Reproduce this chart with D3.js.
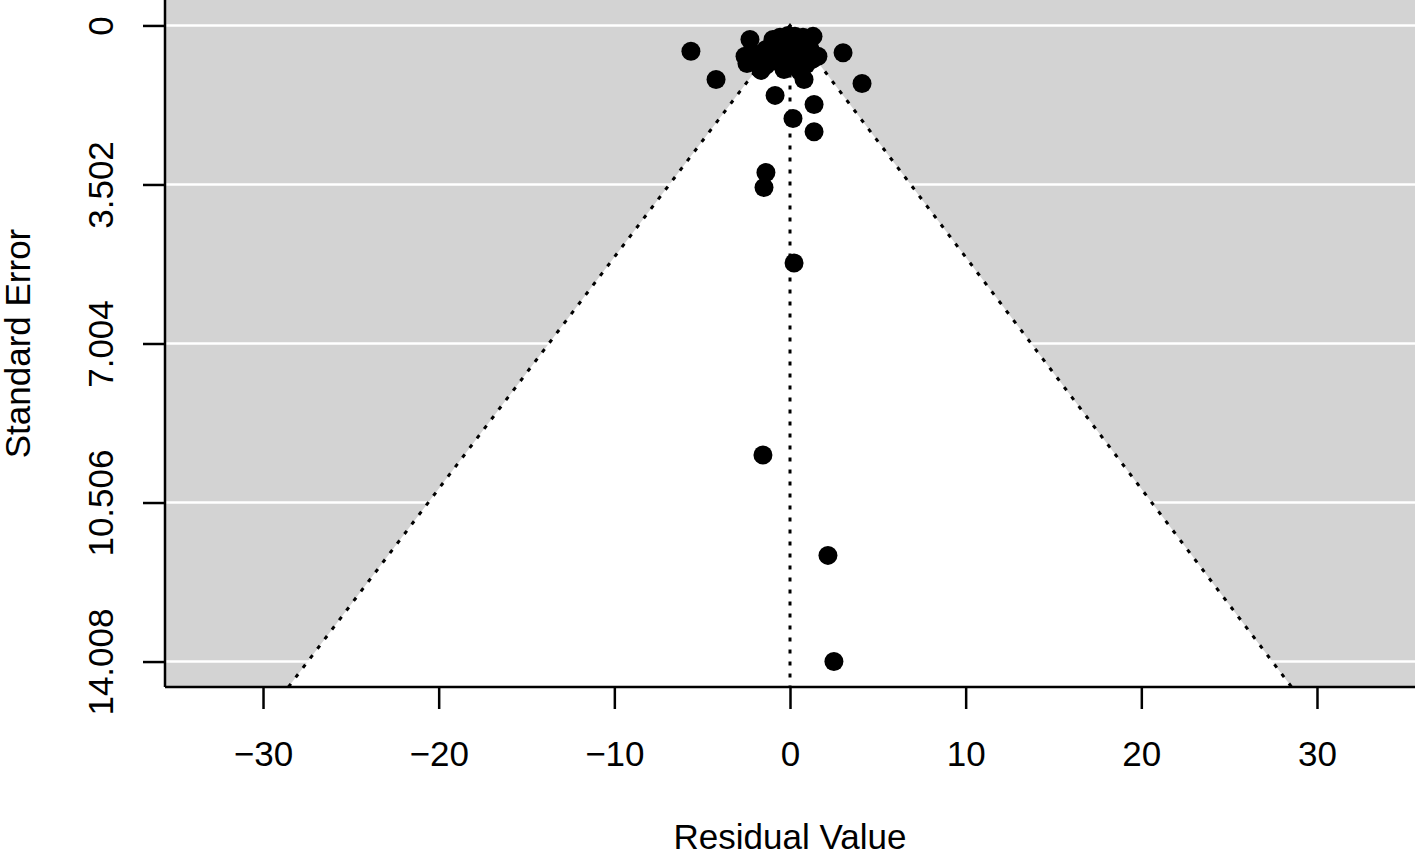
<!DOCTYPE html>
<html>
<head>
<meta charset="utf-8">
<script src="https://cdn.jsdelivr.net/npm/d3@7"></script>
<style>
  body { margin: 0; background: #fff; }
  svg text { font-family: "Liberation Sans", Arial, Helvetica, sans-serif; fill: #000; }
</style>
</head>
<body>
<svg id="chart"></svg>
<script>
// residuals and their standard errors
const residuals = [
  -5.64, -4.21, 3.02, 4.10, -0.85, 1.37, 0.17, 1.37, -1.37, -1.48, 0.23, -1.54, 2.16, 2.50,
  -2.28, -2.56, -2.45, -1.65, -0.97, -0.57, -0.11, 0.28, 0.74, 1.31, -1.37, -0.85, -0.28,
  0.17, 0.68, 1.14, 1.59, -1.14, -0.57, -0.11, 0.34, 0.91, 1.25, -0.34, 0.57, 0.80, -1.88,
  -1.37, 0.28, 0.00, -0.63, 1.08
];
const stdErrors = [
  0.57, 1.19, 0.60, 1.28, 1.54, 1.74, 2.05, 2.34, 3.24, 3.57, 5.23, 9.46, 11.67, 14.008,
  0.31, 0.68, 0.84, 0.99, 0.31, 0.26, 0.22, 0.24, 0.26, 0.24, 0.53, 0.57, 0.49,
  0.53, 0.57, 0.53, 0.68, 0.79, 0.82, 0.75, 0.84, 0.86, 0.75, 0.97, 1.01, 1.19, 0.64,
  0.88, 0.71, 0.40, 0.42, 0.40
];
const xTicks = [-30, -20, -10, 0, 10, 20, 30];
const yTicks = [0, 3.502, 7.004, 10.506, 14.008];
const yTickLabels = ["0", "3.502", "7.004", "10.506", "14.008"];

const width = 1417, height = 853;
const plotLeft = 165, plotRight = 1415, plotTop = 0, plotBottom = 687;

const maxSe = d3.max(stdErrors);
const yPad = maxSe * 0.04;
const seBottom = maxSe + yPad;

const x = d3.scaleLinear().domain([-35.58, 35.58]).range([plotLeft, plotRight]);
const y = d3.scaleLinear().domain([-yPad, seBottom]).range([plotTop, plotBottom]);

const svg = d3.select("#chart")
    .attr("width", width)
    .attr("height", height);

// grey plot background
svg.append("rect")
    .attr("x", plotLeft).attr("y", plotTop)
    .attr("width", plotRight - plotLeft).attr("height", plotBottom - plotTop)
    .attr("fill", "#d3d3d3");

// white gridlines at the y ticks
svg.selectAll(".grid")
    .data(yTicks)
    .join("line")
    .attr("x1", plotLeft).attr("x2", plotRight)
    .attr("y1", d => y(d)).attr("y2", d => y(d))
    .attr("stroke", "#fff")
    .attr("stroke-width", 2.5);

// white funnel region
const funnel = [[-1.96 * seBottom, seBottom], [0, 0], [1.96 * seBottom, seBottom]];
const funnelLine = d3.line().x(d => x(d[0])).y(d => y(d[1]));
svg.append("path")
    .attr("d", funnelLine(funnel) + "Z")
    .attr("fill", "#fff");

// dotted funnel edges and reference line
svg.append("path")
    .attr("d", funnelLine(funnel))
    .attr("fill", "none")
    .attr("stroke", "#000")
    .attr("stroke-width", 3)
    .attr("stroke-dasharray", "4,8");

svg.append("line")
    .attr("x1", x(0)).attr("x2", x(0))
    .attr("y1", y(0)).attr("y2", plotBottom)
    .attr("stroke", "#000")
    .attr("stroke-width", 3)
    .attr("stroke-dasharray", "4,8");

// points
svg.selectAll(".pt")
    .data(residuals.map((r, i) => ({r, se: stdErrors[i]})))
    .join("circle")
    .attr("cx", d => x(d.r))
    .attr("cy", d => y(d.se))
    .attr("r", 9.5)
    .attr("fill", "#000");

// x axis
const xAxis = svg.append("g")
    .attr("transform", `translate(0,${plotBottom})`)
    .call(d3.axisBottom(x).tickValues(xTicks).tickSize(22).tickPadding(32)
        .tickFormat(d => d < 0 ? "\u2212" + Math.abs(d) : d));
xAxis.select(".domain").attr("d", `M${plotLeft},0H${plotRight}`).attr("stroke-width", 2.5);
xAxis.selectAll(".tick line").attr("stroke-width", 2.5);
xAxis.selectAll(".tick text").style("font-size", "35px");

// y axis
const yAxis = svg.append("g")
    .attr("transform", `translate(${plotLeft},0)`)
    .call(d3.axisLeft(y).tickValues(yTicks).tickSize(22)
        .tickFormat((d, i) => yTickLabels[i]));
yAxis.select(".domain").attr("d", `M0,${plotTop}V${plotBottom}`).attr("stroke-width", 2.5);
yAxis.selectAll(".tick line").attr("stroke-width", 2.5);
yAxis.selectAll(".tick text")
    .attr("x", null).attr("dy", null)
    .attr("text-anchor", "middle")
    .attr("transform", "translate(-52,0) rotate(-90)")
    .style("font-size", "35px");

// axis titles
svg.append("text")
    .attr("x", x(0)).attr("y", 849)
    .attr("text-anchor", "middle")
    .style("font-size", "35px")
    .text("Residual Value");

svg.append("text")
    .attr("transform", `translate(30,${(plotTop + plotBottom) / 2}) rotate(-90)`)
    .attr("text-anchor", "middle")
    .style("font-size", "35px")
    .text("Standard Error");
</script>
</body>
</html>
